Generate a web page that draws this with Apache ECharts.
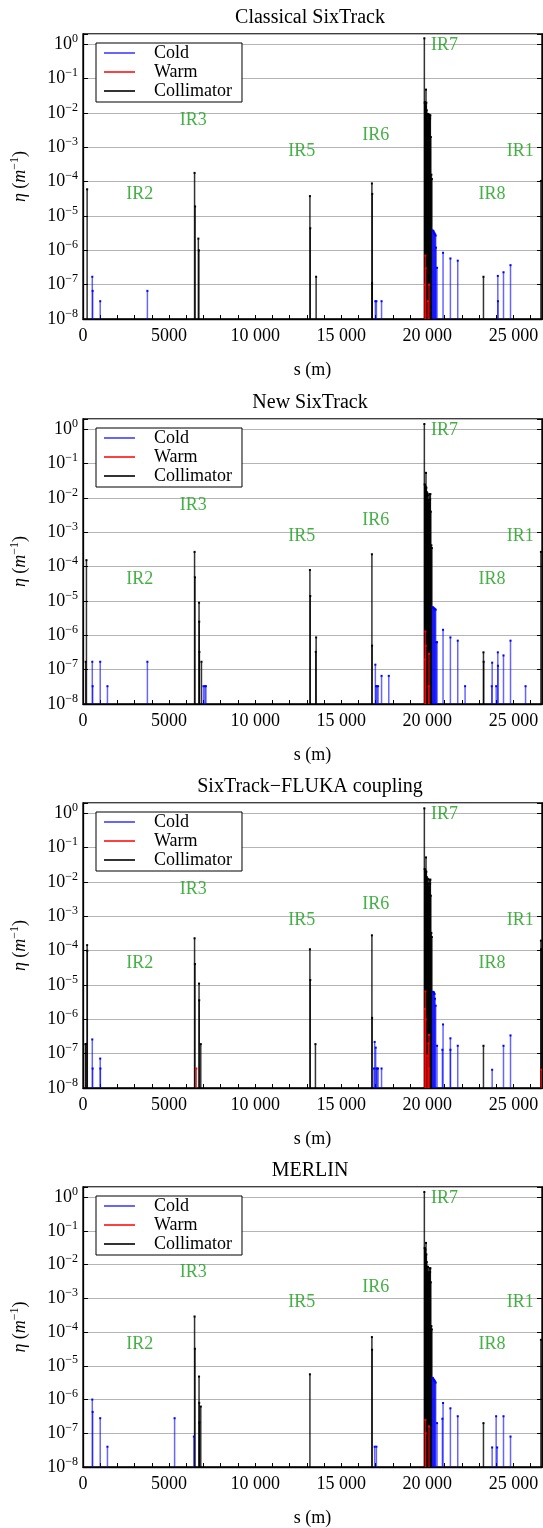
<!DOCTYPE html>
<html><head><meta charset="utf-8">
<script src="https://cdn.jsdelivr.net/npm/echarts@6/dist/echarts.min.js"></script>
<style>html,body{margin:0;padding:0;background:#fff}#c{width:543px;height:1528px}</style>
</head><body><div id="c"></div>
<script>
// ---------------- DATA ----------------
const panelTitles = ['Classical SixTrack', 'New SixTrack', 'SixTrack\u2212FLUKA coupling', 'MERLIN'];
const seriesNames = ['Cold', 'Warm', 'Collimator'];
const xTickValues = [0, 5000, 10000, 15000, 20000, 25000];
const xTickLabels = ['0', '5000', '10 000', '15 000', '20 000', '25 000'];
const irNames = ['IR2', 'IR3', 'IR5', 'IR6', 'IR7', 'IR8', 'IR1'];
const irS     = [3300, 6400, 12700, 17000, 21000, 23750, 25400];
const irEta   = [4.3e-5, 6e-3, 7.9e-4, 2.2e-3, 0.93, 4.3e-5, 7.9e-4];

// Classical SixTrack  [s (m), eta (1/m)]
const coldClassical = [[540,1.7e-7],[560,6.6e-8],[1000,3.3e-8],[3740,6.6e-8],[16980,3.3e-8],[17040,3.3e-8],[17340,3.3e-8],
  [20300,3.8e-6],[20330,3.7e-6],[20360,3.6e-6],[20390,3.3e-6],[20420,3.1e-6],[20450,2.9e-6],[20485,2.7e-6],[20500,1.2e-6],
  [20563,3.1e-7],[20912,8.5e-7],[21339,5.8e-7],[21765,5e-7],[24093,1.8e-7],[24100,3.3e-8],[24423,2.3e-7],[24830,3.7e-7]];
const warmClassical = [[19870,1e-7],[19884,7e-7],[19900,3e-7],[20039,3.3e-8],[20097,1e-7]];
const collClassical = [[240,6e-5],[6480,1.8e-4],[6510,1.9e-5],[6700,2.2e-6],[6730,1e-6],[13180,3.8e-5],[13200,4.4e-6],[13540,1.7e-7],
  [16780,8.9e-5],[16800,4.4e-5],[16790,1.1e-7],[19826,1.5],[19845,0.02],[19865,0.021],[19884,0.019],[19905,0.015],[19922,0.048],
  [19942,0.02],[19965,0.012],[19990,0.006],[20015,0.009],[20039,0.0094],[20060,0.005],[20080,0.008],[20100,0.009],[20136,0.0088],
  [20160,0.007],[20175,0.0085],[20200,0.002],[20233,1.6e-4],[20260,1.2e-4],[23259,1.7e-7],[26596,1.05e-4]];

// New SixTrack
const coldNew = [[540,1.7e-7],[560,3.3e-8],[1000,1.7e-7],[1420,3.3e-8],[3740,1.7e-7],[7000,3.3e-8],[7080,3.3e-8],[7140,3.3e-8],
  [16980,1.4e-7],[17020,3.3e-8],[17080,3.3e-8],[17140,3.3e-8],[17340,6.6e-8],[17760,6.6e-8],
  [20300,6.6e-6],[20330,6.5e-6],[20360,6.3e-6],[20390,6.1e-6],[20420,5.9e-6],[20446,5.7e-6],[20485,5.6e-6],[20520,6.3e-7],
  [20563,6.3e-7],[20912,1.45e-6],[21339,8.7e-7],[21765,7e-7],[22192,3.3e-8],[23740,3.3e-8],[23765,1.6e-7],[23998,3.3e-8],
  [24093,3.2e-7],[24100,1.3e-7],[24423,2.6e-7],[24830,7e-7],[25704,3.3e-8]];
const warmNew = [[19870,2e-7],[19884,1.3e-6],[19900,5e-7],[20080,3.3e-8],[20097,2.9e-7]];
const collNew = [[160,1.7e-7],[200,1.55e-4],[6480,2.7e-4],[6500,4.9e-5],[6740,8.9e-6],[6750,2.5e-6],[6760,3.3e-7],[6880,1.7e-7],
  [13180,8e-5],[13200,1.4e-5],[13540,8.7e-7],[13520,3.3e-7],[16780,2.3e-4],[16790,5e-7],[19826,1.43],[19845,0.025],[19865,0.024],
  [19884,0.022],[19905,0.02],[19922,0.054],[19942,0.02],[19965,0.015],[19990,0.008],[20015,0.0135],[20039,0.012],[20060,0.0087],
  [20080,0.006],[20100,0.007],[20136,0.013],[20160,0.009],[20175,0.013],[20200,0.004],[20233,4.2e-4],[20260,3.5e-4],
  [23259,3.2e-7],[23270,1.7e-7],[26596,2.7e-4]];

// SixTrack-FLUKA coupling
const coldFluka = [[540,2.6e-7],[560,3.7e-8],[1000,7.2e-8],[1010,3.7e-8],[16900,3.7e-8],[16940,2.2e-7],[17000,1.5e-7],[17040,3.7e-8],
  [17080,3.7e-8],[17140,3.7e-8],[17340,3.7e-8],[20300,6.3e-6],[20330,6.3e-6],[20360,6.2e-6],[20390,6e-6],[20420,5.5e-6],[20446,4e-6],
  [20485,2.5e-6],[20563,1.7e-7],[20873,1.3e-7],[20912,7.1e-7],[21339,2.8e-7],[21340,1.3e-7],[21765,1.7e-7],[23764,3.4e-8],
  [24423,1.7e-7],[24830,3.4e-7]];
const warmFluka = [[6580,3.7e-8],[19865,2e-6],[19884,6.5e-6],[19900,1e-6],[19990,8.7e-8],[20060,2e-7],[20080,3.7e-8],[20097,3.5e-7],[26620,3.4e-8]];
const collFluka = [[140,1.9e-7],[180,1.9e-7],[240,1.45e-4],[250,1e-4],[6480,2.3e-4],[6500,4.1e-5],[6740,1.1e-5],[6750,3.6e-6],[6840,1.9e-7],
  [13180,1.1e-4],[13200,1.4e-5],[13500,1.9e-7],[16780,2.8e-4],[16790,1.1e-6],[19826,1.4],[19845,0.024],[19865,0.023],[19884,0.022],
  [19905,0.018],[19922,0.052],[19942,0.02],[19965,0.014],[19990,0.008],[20015,0.0125],[20039,0.012],[20060,0.009],[20080,0.006],
  [20100,0.007],[20136,0.0117],[20160,0.009],[20175,0.0117],[20200,0.004],[20233,3.3e-4],[20260,2.5e-4],[23259,1.7e-7],
  [26596,1.96e-4],[26600,1.1e-4]];

// MERLIN
const coldMerlin = [[540,1e-6],[560,4.3e-7],[1000,2.8e-7],[1420,4e-8],[5320,2.8e-7],[6440,8e-8],[16940,4e-8],[17040,4e-8],
  [20300,4.4e-6],[20330,4.3e-6],[20360,4e-6],[20390,3.8e-6],[20420,3.6e-6],[20446,3.4e-6],[20485,3.2e-6],[20563,2e-7],[20873,2.7e-7],
  [20912,7.9e-7],[21339,5.5e-7],[21765,3.2e-7],[23764,3.8e-8],[23996,3.2e-7],[24054,3.8e-8],[24423,3.2e-7],[24830,8e-8]];
const warmMerlin = [[19884,2.5e-7],[19900,1e-7],[20097,1.6e-7]];
const collMerlin = [[6480,2.9e-4],[6500,3.2e-5],[6740,4.8e-6],[6750,8e-7],[6760,2.1e-7],[6840,6.2e-7],[13180,5.6e-6],[16780,7.1e-5],
  [16790,3e-5],[19826,1.43],[19845,0.031],[19865,0.03],[19884,0.028],[19905,0.02],[19922,0.044],[19942,0.02],[19965,0.012],
  [19990,0.006],[20015,0.0087],[20039,0.0085],[20060,0.006],[20080,0.005],[20100,0.006],[20136,0.0078],[20160,0.006],[20175,0.0078],
  [20200,0.003],[20233,1.5e-4],[20260,1.2e-4],[23259,2e-7],[26596,5.9e-5]];

const panelCold = [coldClassical, coldNew, coldFluka, coldMerlin];
const panelWarm = [warmClassical, warmNew, warmFluka, warmMerlin];
const panelColl = [collClassical, collNew, collFluka, collMerlin];

// ---------------- LAYOUT / STYLE ----------------
const FONT = '"Liberation Serif", "DejaVu Serif", serif';
const YMIN = 1e-8, YMAX = 2.0, XMAX = 26659;
const gridTops = [34, 419, 803, 1187];
const GRID_LEFT = 83, GRID_W = 459, GRID_H = 285;
const colors = {
  Cold: {line: 'rgba(0,0,255,0.6)', dot: '#0000ff'},
  Warm: {line: 'rgba(255,0,0,0.75)', dot: '#ff0000'},
  Collimator: {line: 'rgba(0,0,0,0.8)', dot: '#000000'}
};
const measure = (() => { const c = document.createElement('canvas').getContext('2d'); return (t, px) => { c.font = px + 'px "Liberation Serif"'; return c.measureText(t).width; }; })();

function powLabel(v) {
  const e = Math.log10(v), r = Math.round(e);
  if (Math.abs(e - r) > 1e-6) return '';
  return '{b|10}{s|' + (r < 0 ? '\u2212' + (-r) : String(r)) + '}';
}
function xLabel(v) {
  const i = xTickValues.indexOf(Math.round(v));
  return (i >= 0 && Math.abs(v - Math.round(v)) < 1e-6) ? xTickLabels[i] : '';
}
function makeStem(name) {
  return function (params, api) {
    const x = api.value(0), y = api.value(1);
    const top = api.coord([x, y]);
    const bot = api.coord([x, YMIN]);
    return {
      type: 'group',
      children: [
        {type: 'line', shape: {x1: top[0], y1: bot[1], x2: top[0], y2: top[1]}, style: {stroke: colors[name].line, lineWidth: 1.5}},
        {type: 'rect', shape: {x: top[0] - 1, y: top[1] - 1, width: 2, height: 2}, style: {fill: colors[name].dot}}
      ]
    };
  };
}

const grids = [], xAxes = [], yAxes = [], titles = [], legends = [], series = [];
const axisTextStyle = {color: '#000', fontFamily: FONT, fontSize: 18};

for (let p = 0; p < 4; p++) {
  const top = gridTops[p];
  grids.push({left: GRID_LEFT, top: top, width: GRID_W, height: GRID_H, show: true, borderColor: '#000', borderWidth: 1.3, backgroundColor: 'transparent'});
  xAxes.push({
    type: 'value', gridIndex: p, min: 0, max: XMAX, interval: 1000,
    axisLine: {show: true, onZero: false, lineStyle: {color: '#000', width: 1.3}},
    axisTick: {show: true, inside: true, length: 4, lineStyle: {color: '#000', width: 1}},
    axisLabel: Object.assign({margin: 8, formatter: xLabel, showMaxLabel: false}, axisTextStyle),
    splitLine: {show: false},
    name: 's (m)', nameLocation: 'middle', nameGap: 42,
    nameTextStyle: {color: '#000', fontFamily: FONT, fontSize: 18}
  });
  yAxes.push({
    type: 'log', logBase: 10, gridIndex: p, min: YMIN, max: YMAX, splitNumber: 8,
    axisLine: {show: true, onZero: false, lineStyle: {color: '#000', width: 1.3}},
    axisTick: {show: true, inside: true, length: 5, lineStyle: {color: '#000', width: 1}},
    axisLabel: {margin: 5, color: '#000', formatter: powLabel,
      rich: {b: {fontFamily: FONT, fontSize: 18, color: '#000'}, s: {fontFamily: FONT, fontSize: 12, color: '#000', padding: [0, 0, 11, 0]}}},
    splitLine: {show: true, lineStyle: {color: '#b4b4b4', width: 1}},
    name: '{i|\u03b7} ({i|m}{s|\u22121})', nameLocation: 'middle', nameGap: 52, nameRotate: 90,
    nameTextStyle: {color: '#000', fontFamily: FONT, fontSize: 18,
      rich: {i: {fontFamily: FONT, fontSize: 18, fontStyle: 'italic', color: '#000'},
             s: {fontFamily: FONT, fontSize: 12, color: '#000', padding: [0, 0, 10, 0]}}}
  });
  yAxes.push({
    type: 'log', logBase: 10, gridIndex: p, min: YMIN, max: YMAX, splitNumber: 8, position: 'right',
    axisLine: {show: true, onZero: false, lineStyle: {color: '#000', width: 1.3}},
    axisTick: {show: true, inside: true, length: 5, lineStyle: {color: '#000', width: 1}},
    axisLabel: {show: false}, splitLine: {show: false}
  });
  const tw = measure(panelTitles[p], 20);
  titles.push({text: panelTitles[p], left: 310 - tw / 2, top: top - 26, padding: 0,
    textStyle: {fontFamily: FONT, fontSize: 20, fontWeight: 'normal', color: '#000'}});
  legends.push({
    data: seriesNames.map(n => ({name: n})), orient: 'vertical', left: 96, top: top + 9,
    itemWidth: 31, itemHeight: 2, itemGap: 1, icon: 'rect', selectedMode: false,
    padding: [1, 10, 2, 8], backgroundColor: '#fff', borderColor: '#000', borderWidth: 1, borderRadius: 0,
    formatter: n => '{t|' + n + '}',
    textStyle: {color: '#000', fontFamily: FONT, fontSize: 18,
      rich: {t: {fontFamily: FONT, fontSize: 18, color: '#000', padding: [0, 0, 0, 14], lineHeight: 18}}}
  });
  const groups = [['Collimator', panelColl[p]], ['Cold', panelCold[p]], ['Warm', panelWarm[p]]];
  groups.forEach(([name, data]) => {
    series.push({
      name: name, type: 'custom', xAxisIndex: p, yAxisIndex: 2 * p, clip: true,
      itemStyle: {color: colors[name].line}, encode: {x: 0, y: 1},
      renderItem: makeStem(name), data: data, silent: true, animation: false
    });
  });
  series.push({
    name: 'IR', type: 'scatter', xAxisIndex: p, yAxisIndex: 2 * p, symbolSize: 1, silent: true,
    itemStyle: {color: 'transparent'},
    data: irNames.map((n, i) => ({name: n, value: [irS[i], irEta[i]]})),
    label: {show: true, position: 'inside', formatter: '{b}', color: '#169c16', fontFamily: FONT, fontSize: 18},
    animation: false, z: 5
  });
}

const chart = echarts.init(document.getElementById('c'), null, {renderer: 'canvas'});
chart.setOption({
  animation: false, backgroundColor: '#fff',
  title: titles, legend: legends, grid: grids, xAxis: xAxes, yAxis: yAxes, series: series
});
</script></body></html>
